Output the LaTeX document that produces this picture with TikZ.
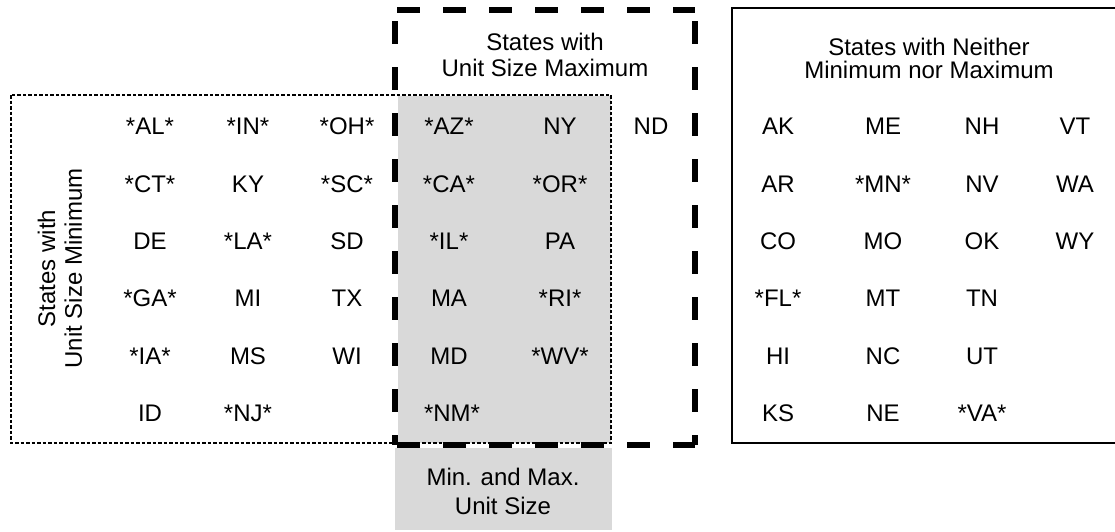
\documentclass[tikz,border=0pt]{standalone}
\usepackage{fontspec}
\setmainfont{Liberation Sans}
\definecolor{cellgray}{RGB}{217,217,217}
\tikzset{
  lbl/.style={font=\fontsize{24}{27}\selectfont, inner sep=0pt, outer sep=0pt, anchor=center},
  hdr/.style={lbl, align=center},
  dotbox/.style={draw=black, line width=1.8, dash pattern=on 3.5 off 2},
  thickdash/.style={draw=black, line width=5.5, dash pattern=on 23 off 23},
  solidbox/.style={draw=black, line width=2},
}
\begin{document}
\begin{tikzpicture}[x=1pt,y=-1pt]
\useasboundingbox (0,0) rectangle (1115,531);
% gray fills
\fill[cellgray] (398,96) rectangle (611,443);
\fill[cellgray] (395,448) rectangle (612,530);
% dotted minimum box
\draw[dotbox] (11,95) rectangle (611,443);
% thick dashed maximum box
\coordinate (dTL) at (395,10);
\coordinate (dTR) at (695,10);
\coordinate (dBL) at (395,445);
\coordinate (dBR) at (695,445);
\draw[thickdash, dash phase=44] (dTL) -- (dTR);
\draw[thickdash, dash phase=44] (dBL) -- (dBR);
\draw[thickdash, dash phase=35] (dTL) -- (dBL);
\draw[thickdash, dash phase=35] (dTR) -- (dBR);
% solid neither box
\draw[solidbox] (731.7,8) rectangle (1118,442.7);
% headers
\node[hdr, font=\fontsize{24}{26}\selectfont] (hmax) at (545,54.7) {States with\\Unit Size Maximum};
\node[hdr, font=\fontsize{24}{23.6}\selectfont] (hnei) at (929,58.3) {States with Neither\\Minimum nor Maximum};
\node[hdr, font=\fontsize{24}{26.7}\selectfont, rotate=90] (hmin) at (60,268.4) {States with\\Unit Size Minimum};
\node[hdr, font=\fontsize{24}{28.3}\selectfont] (hboth) at (503,491.3) {Min. and Max.\\Unit Size};
% left group
\foreach \t/\x/\y [count=\i] in {
  *AL*/150/126, *IN*/248/126, *OH*/347/126,
  *CT*/150/184, KY/248/184, *SC*/347/184,
  DE/150/241, *LA*/248/241, SD/347/241,
  *GA*/150/298, MI/248/298, TX/347/298,
  *IA*/150/356, MS/248/356, WI/347/356,
  ID/150/413, *NJ*/248/413}
  \node[lbl] (mn\i) at (\x,\y) {\t};
% gray group
\foreach \t/\x/\y [count=\i] in {
  *AZ*/449/126, NY/560/126,
  *CA*/449/184, *OR*/560/184,
  *IL*/449/241, PA/560/241,
  MA/449/298, *RI*/560/298,
  MD/449/356, *WV*/560/356,
  *NM*/452/413}
  \node[lbl] (bt\i) at (\x,\y) {\t};
\node[lbl] (nd) at (651,126) {ND};
% neither group
\foreach \t/\x/\y [count=\i] in {
  AK/778/126, ME/883/126, NH/982/126, VT/1075/126,
  AR/778/184, *MN*/883/184, NV/982/184, WA/1075/184,
  CO/778/241, MO/883/241, OK/982/241, WY/1075/241,
  *FL*/778/298, MT/883/298, TN/982/298,
  HI/778/356, NC/883/356, UT/982/356,
  KS/778/413, NE/883/413, *VA*/982/413}
  \node[lbl] (ne\i) at (\x,\y) {\t};
\end{tikzpicture}
\end{document}
